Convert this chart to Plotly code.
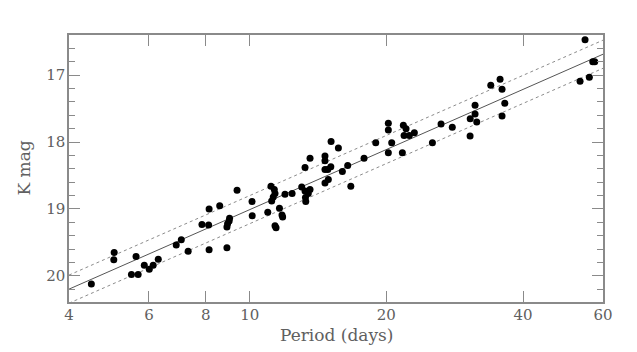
import numpy as np
import plotly.graph_objects as go

# Cepheid data: period (days) and K magnitude
period = [4.48, 5.03, 5.02, 5.62, 5.49, 5.68, 5.86, 6.01, 6.13, 6.29,
          6.89, 7.07, 7.32, 7.85, 8.12, 8.14, 8.14, 8.59, 8.91, 9.38,
          9.03, 9.01, 8.94, 8.91, 10.12, 10.13, 10.96, 11.14, 11.33, 11.37,
          11.27, 11.18, 11.96, 12.40, 11.37, 11.43, 11.63, 11.78, 11.82, 13.02,
          13.24, 13.58, 13.46, 13.27, 13.29, 13.24, 13.58, 14.65, 14.65, 14.65,
          14.86, 15.09, 15.11, 15.68, 16.00, 16.44, 14.65, 14.90, 16.70, 17.86,
          18.95, 20.20, 20.20, 20.55, 20.20, 21.80, 22.10, 21.88, 22.47, 23.05,
          21.69, 25.26, 26.39, 27.94, 30.58, 30.60, 31.36, 31.36, 31.63, 33.96,
          35.60, 35.96, 36.46, 35.96, 53.41, 55.99, 54.78, 56.96, 57.54]
kmag = [20.12, 19.65, 19.76, 19.71, 19.98, 19.98, 19.84, 19.90, 19.84, 19.75,
        19.54, 19.46, 19.63, 19.23, 19.24, 19.00, 19.61, 18.95, 19.58, 18.72,
        19.14, 19.18, 19.22, 19.27, 18.89, 19.10, 19.05, 18.66, 18.71, 18.77,
        18.82, 18.88, 18.78, 18.77, 19.25, 19.28, 18.99, 19.09, 19.12, 18.67,
        18.73, 18.71, 18.77, 18.83, 18.89, 18.38, 18.24, 18.21, 18.28, 18.41,
        18.41, 18.37, 17.99, 18.09, 18.44, 18.35, 18.61, 18.56, 18.66, 18.24,
        18.01, 17.72, 17.82, 18.01, 18.16, 17.75, 17.80, 17.90, 17.90, 17.86,
        18.16, 18.01, 17.73, 17.78, 17.91, 17.65, 17.58, 17.45, 17.70, 17.15,
        17.06, 17.21, 17.42, 17.61, 17.09, 17.03, 16.47, 16.80, 16.80]

# Period-luminosity fit: K = zp + slope * (log P - 1), with +/- width band
pl_zero_point = 19.01
pl_slope = -2.985
pl_width = 0.21
fit_periods = [4.0, 60.0]

x_ticks = [4, 6, 8, 10, 20, 40, 60]
y_ticks = [17, 18, 19, 20]
x_title = "Period (days)"
y_title = "K mag"

fp = np.array(fit_periods)
fit_k = pl_zero_point + pl_slope * (np.log10(fp) - 1.0)

axis_col = "#8a8a8a"
text_col = "#606060"
font_family = "DejaVu Serif"

fig = go.Figure()
fig.add_trace(go.Scatter(x=fp, y=fit_k - pl_width, mode="lines",
                         line=dict(color="#8c8c8c", width=1, dash="dot"),
                         showlegend=False, hoverinfo="skip"))
fig.add_trace(go.Scatter(x=fp, y=fit_k + pl_width, mode="lines",
                         line=dict(color="#8c8c8c", width=1, dash="dot"),
                         showlegend=False, hoverinfo="skip"))
fig.add_trace(go.Scatter(x=fp, y=fit_k, mode="lines",
                         line=dict(color="#555555", width=1),
                         showlegend=False, hoverinfo="skip"))
fig.add_trace(go.Scatter(x=period, y=kmag, mode="markers",
                         marker=dict(color="black", size=7),
                         showlegend=False))

# page body has an 8px margin, so margins are compensated
fig.update_layout(
    width=637, height=352,
    margin=dict(l=61, r=42, t=27, b=58),
    paper_bgcolor="white", plot_bgcolor="white",
    font=dict(family=font_family, color=text_col, size=15),
    xaxis=dict(
        type="log", range=[np.log10(4), np.log10(60)],
        tickvals=x_ticks, ticktext=[str(t) for t in x_ticks],
        ticks="inside", ticklen=11, tickwidth=1, tickcolor=axis_col,
        showline=True, linecolor=axis_col, linewidth=1.5, mirror="allticks",
        showgrid=False, zeroline=False, ticklabelstandoff=-2,
        tickfont=dict(family=font_family, size=15, color=text_col),
    ),
    yaxis=dict(
        range=[20.39, 16.40],
        tickvals=y_ticks,
        ticks="inside", ticklen=11, tickwidth=1, tickcolor=axis_col,
        minor=dict(dtick=0.2, ticks="inside", ticklen=6, tickcolor=axis_col,
                   showgrid=False),
        showline=True, linecolor=axis_col, linewidth=1.5, mirror="allticks",
        showgrid=False, zeroline=False, ticklabelstandoff=-1,
        tickfont=dict(family=font_family, size=15, color=text_col),
    ),
    annotations=[
        dict(text=x_title, xref="paper", yref="paper", x=0.5, y=0,
             xanchor="center", yanchor="middle", yshift=-33, showarrow=False,
             font=dict(family=font_family, size=17, color=text_col)),
        dict(text=y_title, xref="paper", yref="paper", x=0, y=0.5,
             xanchor="center", yanchor="middle", xshift=-46, textangle=-90,
             showarrow=False,
             font=dict(family=font_family, size=17, color=text_col)),
    ],
)

fig.write_html("out.html")
